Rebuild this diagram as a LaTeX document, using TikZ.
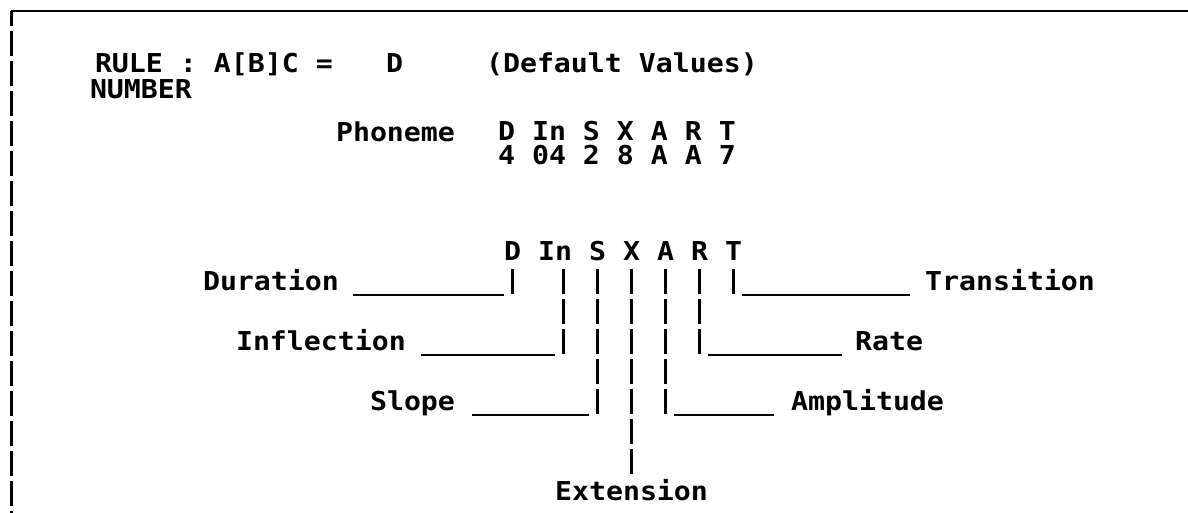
\documentclass[tikz,border=0pt]{standalone}
\usepackage{fontspec}
\newfontfamily\prt{DejaVu Sans Mono}[FakeStretch=1.086]
\begin{document}
\begin{tikzpicture}[x=1pt,y=-1pt,
  txt/.style={font=\prt\bfseries\fontsize{26}{30}\selectfont, inner sep=0pt, outer sep=0pt, anchor=base west, text height=19pt, text depth=0pt},
  col/.style={txt, anchor=base},
  bar/.style={line width=3.5pt, dash pattern=on 25pt off 5pt},
  uline/.style={line width=2.5pt},
  frame/.style={line width=3pt}]
\useasboundingbox (0,0) rectangle (1188,513);
% frame
\coordinate (tl) at (11,11);
\coordinate (tr) at (1188,11);
\coordinate (bl) at (11,513);
\draw[line width=2.5pt] (tl) -- (tr);
\draw[frame, dash pattern=on 25pt off 5pt, dash phase=10pt] (tl) -- (bl);
% header
\node[txt] (rule) at (95,73) {RULE : A[B]C =};
\node[txt] (ruleD) at (386,73) {D};
\node[txt] (dflt) at (486,73) {(Default Values)};
\node[txt] (num) at (90,99) {NUMBER};
\node[txt] (phon) at (336,142) {Phoneme};
\node[txt] (codes) at (498,141) {D In S X A R T};
\node[txt] (vals) at (498,165) {4 04 2 8 A A 7};
% column heads
\node[col] (hD) at (512.5,260) {D};
\node[col] (hIn) at (555,260) {In};
\node[col] (hS) at (597.5,260) {S};
\node[col] (hX) at (631.5,260) {X};
\node[col] (hA) at (665.5,260) {A};
\node[col] (hR) at (699.5,260) {R};
\node[col] (hT) at (733.5,260) {T};
% bars
\draw[bar] ([yshift=-9pt]hD.base) -- ++(0,25) coordinate (eD);
\draw[bar] ([xshift=8.5pt,yshift=-9pt]hIn.base) -- ++(0,85) coordinate (eIn);
\draw[bar] ([yshift=-9pt]hS.base) -- ++(0,145) coordinate (eS);
\draw[bar] ([yshift=-9pt]hX.base) -- ++(0,205) coordinate (eX);
\draw[bar] ([yshift=-9pt]hA.base) -- ++(0,145) coordinate (eA);
\draw[bar] ([yshift=-9pt]hR.base) -- ++(0,85) coordinate (eR);
\draw[bar] ([yshift=-9pt]hT.base) -- ++(0,25) coordinate (eT);
% labels
\node[txt] (dur) at (203,290) {Duration};
\node[txt] (inf) at (236,350) {Inflection};
\node[txt] (slo) at (370,410) {Slope};
\node[txt] (tra) at (925,290) {Transition};
\node[txt] (rat) at (855,350) {Rate};
\node[txt] (amp) at (791,410) {Amplitude};
\node[col] (ext) at (631.5,500) {Extension};
% underlines
\draw[uline] ([xshift=-8.5pt,yshift=-1pt]eD) -- ++(-151,0);
\draw[uline] ([xshift=-8.5pt,yshift=-1pt]eIn) -- ++(-134,0);
\draw[uline] ([xshift=-8.5pt,yshift=-1pt]eS) -- ++(-117,0);
\draw[uline] ([xshift=8.5pt,yshift=-1pt]eT) -- ++(168,0);
\draw[uline] ([xshift=8.5pt,yshift=-1pt]eR) -- ++(134,0);
\draw[uline] ([xshift=8.5pt,yshift=-1pt]eA) -- ++(100,0);
\end{tikzpicture}
\end{document}
